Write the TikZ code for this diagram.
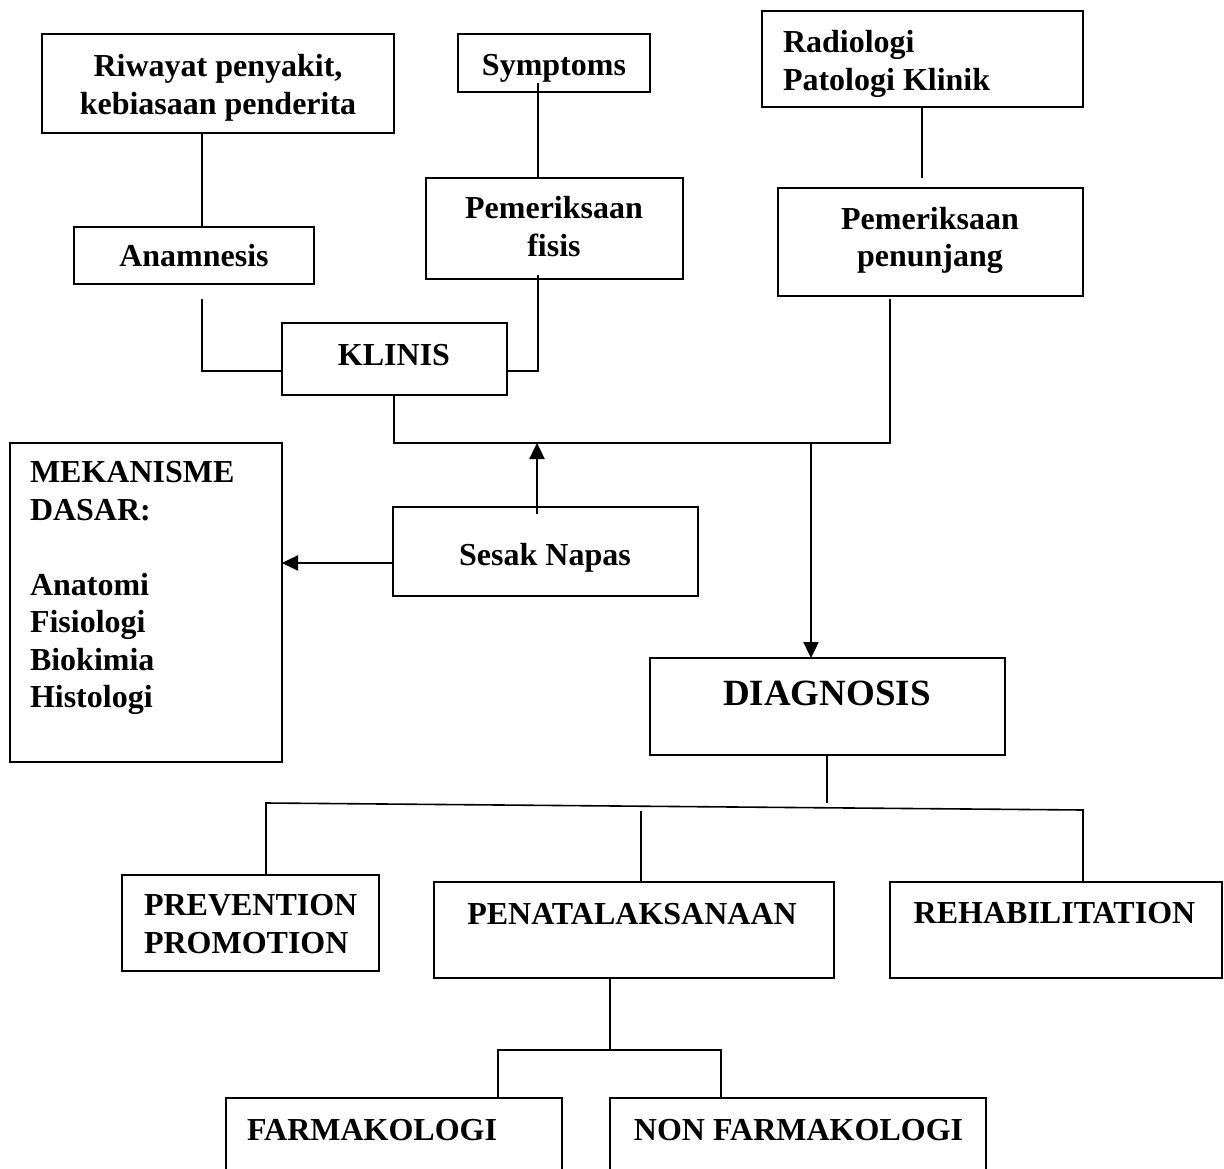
\documentclass[tikz,border=0pt]{standalone}
\usepackage{fontspec}
\setmainfont{Liberation Serif}
\usetikzlibrary{arrows.meta}
\tikzset{
  bx/.style={draw=black, line width=2pt, inner sep=0pt, outer sep=0pt},
  txt/.style={inner sep=0pt, outer sep=0pt, font=\fontsize{32}{37.5}\selectfont\bfseries},
  ln/.style={draw=black, line width=1.6pt},
  arr/.style={draw=black, line width=2.4pt, -{Triangle[length=16pt,width=15pt]}},
}
\begin{document}
\begin{tikzpicture}[x=1pt,y=-1pt]
\useasboundingbox[fill=white] (0,0) rectangle (1224,1169);
% boxes
\node[bx, minimum width=352pt, minimum height=99pt]  (riw)   at (218,83.5) {};
\node[bx, minimum width=240pt, minimum height=57pt]  (anam)  at (194,255.5) {};
\node[bx, minimum width=192pt, minimum height=58pt]  (symp)  at (554,63) {};
\node[bx, minimum width=257pt, minimum height=101pt] (fis)   at (554.5,228.5) {};
\node[bx, minimum width=225pt, minimum height=72pt]  (klin)  at (394.5,359) {};
\node[bx, minimum width=321pt, minimum height=96pt]  (rad)   at (922.5,59) {};
\node[bx, minimum width=305pt, minimum height=108pt] (pen)   at (930.5,242) {};
\node[bx, minimum width=305pt, minimum height=89pt]  (sesak) at (545.5,551.5) {};
\node[bx, minimum width=272pt, minimum height=319pt] (mek)   at (146,602.5) {};
\node[bx, minimum width=355pt, minimum height=97pt]  (diag)  at (827.5,706.5) {};
\node[bx, minimum width=257pt, minimum height=96pt]  (prev)  at (250.5,923) {};
\node[bx, minimum width=400pt, minimum height=96pt]  (penat) at (634,930) {};
\node[bx, minimum width=332pt, minimum height=96pt]  (rehab) at (1056,930) {};
\node[bx, minimum width=336pt, minimum height=104pt] (farm)  at (394,1150) {};
\node[bx, minimum width=376pt, minimum height=104pt] (nonf)  at (798,1150) {};
% texts
\node[txt, align=center, anchor=north] (riwt) at (218,54.5) {Riwayat penyakit,\\kebiasaan penderita};
\node[txt, anchor=base] (anamt) at (194,267) {Anamnesis};
\node[txt, anchor=base] (sympt) at (554,76) {Symptoms};
\node[txt, align=center, anchor=north] (fist) at (554,196.5) {Pemeriksaan\\fisis};
\node[txt, anchor=base] (klint) at (394,365) {KLINIS};
\node[txt, align=left, anchor=north west] (radt) at (783,30.5) {Radiologi\\Patologi Klinik};
\node[txt, align=center, anchor=north] (pent) at (930,207) {Pemeriksaan\\penunjang};
\node[txt, anchor=base] (sesakt) at (545,565) {Sesak Napas};
\node[txt, align=left, anchor=north west] (mekt) at (30,461.5) {MEKANISME\\DASAR:\\[37.5pt]Anatomi\\Fisiologi\\Biokimia\\Histologi};
\node[inner sep=0pt, outer sep=0pt, font=\fontsize{37}{42}\selectfont\bfseries, anchor=base] (diagt) at (827,705) {DIAGNOSIS};
\node[txt, align=left, anchor=north west] (prevt) at (144,894.5) {PREVENTION\\PROMOTION};
\node[txt, anchor=base] (penatt) at (632,924) {PENATALAKSANAAN};
\node[txt, anchor=base] (rehabt) at (1054.5,923) {REHABILITATION};
\node[txt, anchor=base west] (farmt) at (247,1140) {FARMAKOLOGI};
\node[txt, anchor=base] (nonft) at (798.5,1140) {NON FARMAKOLOGI};
% junction coordinates
\coordinate (xa) at (202,0);
\coordinate (a1) at (202,299);
\coordinate (j1) at (202,371);
\coordinate (s1) at (538,83);
\coordinate (f1) at (538,275);
\coordinate (f2) at (538,371);
\coordinate (xr) at (922,0);
\coordinate (r2) at (922,178);
\coordinate (k1) at (394,443);
\coordinate (k2) at (890,443);
\coordinate (p1) at (890,299);
\coordinate (k3) at (811,443);
\coordinate (s2) at (537,514);
\coordinate (k4) at (537,443);
\coordinate (m1) at (0,563);
\coordinate (d1) at (827,803);
\coordinate (h1) at (266,803);
\coordinate (h2) at (1083,810);
\coordinate (h3) at (641,811);
\coordinate (b0) at (610,1050);
\coordinate (b1) at (498,1050);
\coordinate (b2) at (721,1050);
% connectors
\draw[ln] (riw.south -| xa) -- (anam.north -| xa);
\draw[ln] (a1) -- (j1) -- (klin.west |- j1);
\draw[ln] (s1) -- (fis.north -| s1);
\draw[ln] (f1) -- (f2) -- (klin.east |- f2);
\draw[ln] (rad.south -| xr) -- (r2);
\draw[ln] (klin.south -| k1) -- (k1) -- (k2) -- (p1);
\draw[arr] (k3) -- (diag.north -| k3);
\draw[arr] (s2) -- (k4);
\draw[arr] (sesak.west |- m1) -- (mek.east |- m1);
\draw[ln] (diag.south -| d1) -- (d1);
\draw[ln] (prev.north -| h1) -- (h1) -- (h2) -- (rehab.north -| h2);
\draw[ln] (h3) -- (penat.north -| h3);
\draw[ln] (penat.south -| b0) -- (b0);
\draw[ln] (farm.north -| b1) -- (b1) -- (b2) -- (nonf.north -| b2);
\end{tikzpicture}
\end{document}
